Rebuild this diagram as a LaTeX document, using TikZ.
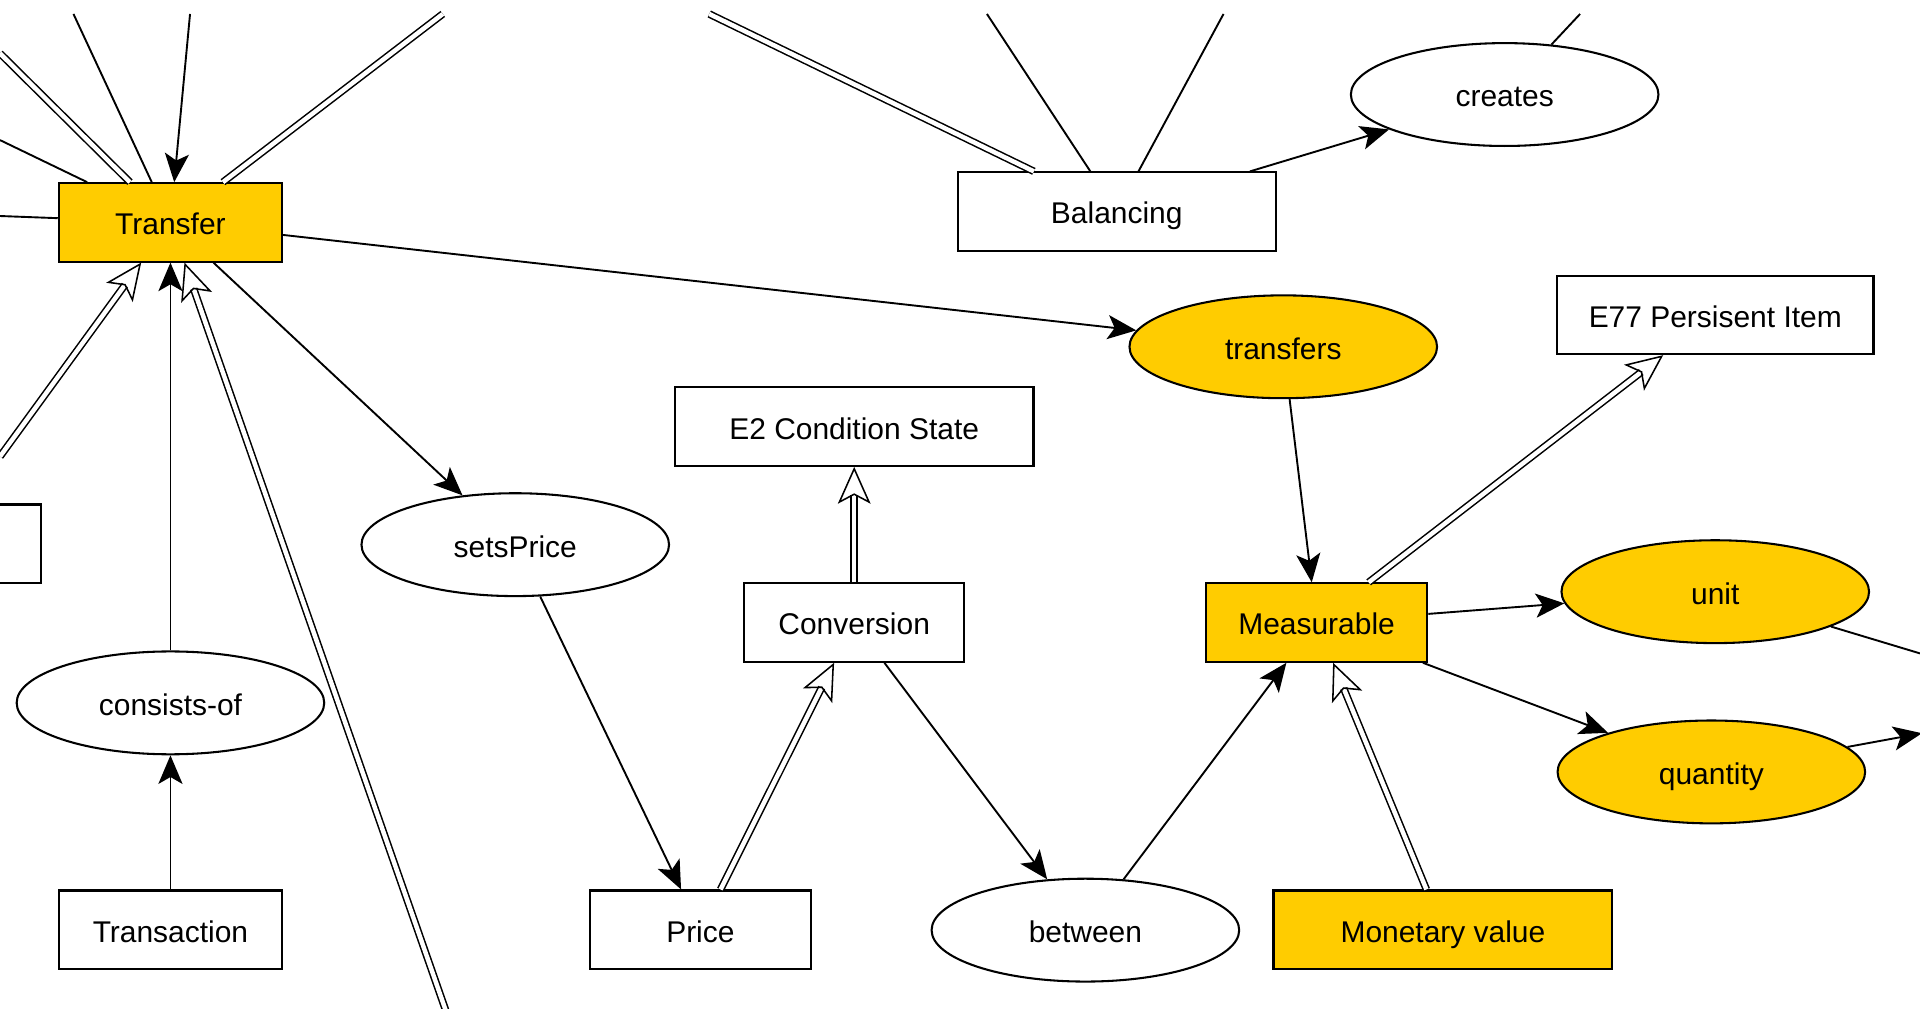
\documentclass[tikz,border=0pt]{standalone}
\usepackage{fontspec}
\setmainfont{Liberation Sans}
\usetikzlibrary{arrows.meta,shapes.geometric}
\definecolor{gold}{HTML}{FFCC00}
\tikzset{
  cls/.style={draw,line width=.6pt,fill=white,minimum height=.8cm,inner sep=0pt,text height=.9em,text depth=.18em},
  prop/.style={draw,ellipse,line width=.6pt,fill=white,minimum width=3.14cm,minimum height=1.05cm,inner sep=0pt,text height=.9em,text depth=.18em},
  hl/.style={fill=gold},
  plain/.style={line width=.55pt},
  rel/.style={plain,-{Stealth[length=8.3pt,width=7pt,inset=2pt]}},
  dbl/.style={line width=.45pt,double,double distance=1.3pt},
  isa/.style={dbl,-{Stealth[open,length=10.7pt,width=9.5pt,inset=2.5pt]}}
}
\begin{document}
\begin{tikzpicture}[font=\fontsize{8.7}{10}\selectfont]
        \useasboundingbox (0,0) rectangle (19.6,-10.3);
        \clip (0,0) rectangle (19.6,-10.3);
        \node[cls,hl,minimum width=2.28cm] (tr) at (1.74,-2.27) {Transfer};
        \node[cls,minimum width=3.25cm] (bal) at (11.40,-2.16) {Balancing};
        \node[prop] (cre) at (15.36,-.965) {creates};
        \node[prop,hl] (tfs) at (13.10,-3.54) {transfers};
        \node[cls,minimum width=3.23cm] (e77) at (17.51,-3.215) {E77 Persisent Item};
        \node[cls,minimum width=3.66cm] (e2) at (8.72,-4.355) {E2 Condition State};
        \node[prop] (sp) at (5.26,-5.56) {setsPrice};
        \node[cls,minimum width=2.25cm] (conv) at (8.72,-6.355) {Conversion};
        \node[cls,hl,minimum width=2.26cm] (meas) at (13.44,-6.355) {Measurable};
        \node[prop,hl] (unit) at (17.51,-6.04) {unit};
        \node[prop] (cof) at (1.74,-7.175) {consists-of};
        \node[prop,hl] (qty) at (17.47,-7.88) {quantity};
        \node[cls,minimum width=2.28cm] (tx) at (1.74,-9.49) {Transaction};
        \node[cls,minimum width=2.25cm] (price) at (7.15,-9.49) {Price};
        \node[prop] (btw) at (11.08,-9.495) {between};
        \node[cls,hl,minimum width=3.46cm] (mon) at (14.73,-9.49) {Monetary value};
        \node[cls,minimum width=2.28cm] (lbox) at (-.725,-5.55) {};
        % loose ends at the border of the view
        \coordinate (ta1) at (0,-.545);
        \coordinate (ta2) at (0,-1.43);
        \coordinate (ta3) at (.75,-.1425);
        \coordinate (ta4) at (1.94,-.1425);
        \coordinate (ta5) at (4.52,-.1425);
        \coordinate (ta6) at (0,-2.205);
        \coordinate (tb1) at (0,-4.66);
        \coordinate (tb2) at (4.58,-10.4);
        \coordinate (b1) at (7.24,-.1425);
        \coordinate (b2) at (10.075,-.1425);
        \coordinate (b3) at (12.49,-.1425);
        \coordinate (c1) at (16.13,-.1425);
        \coordinate (u1) at (19.6,-6.67);
        \coordinate (q1) at (19.62,-7.485);
        \draw[dbl] (ta1) -- (tr);
        \foreach \c in {ta2,ta3,ta6}{
            \draw[plain] (\c) -- (tr);
        }
        \draw[rel] (ta4) -- (tr);
        \draw[dbl] (ta5) -- (tr);
        \draw[isa] (tb1) -- (tr);
        \draw[isa] (tb2) -- (tr);
        \draw[rel] (cof) -- (tr);
        \draw[rel] (tx) -- (cof);
        \draw[rel] (tr) -- (sp);
        \draw[rel] (tr) -- (tfs);
        \draw[dbl] (b1) -- (bal);
        \foreach \c in {b2,b3}{
            \draw[plain] (\c) -- (bal);
        }
        \draw[rel] (bal) -- (cre);
        \draw[plain] (c1) -- (cre);
        \draw[rel] (tfs) -- (meas);
        \draw[isa] (meas) -- (e77);
        \draw[rel] (meas) -- (unit);
        \draw[rel] (meas) -- (qty);
        \draw[plain] (unit) -- (u1);
        \draw[rel] (qty) -- (q1);
        \draw[isa] (mon) -- (meas);
        \draw[rel] (btw) -- (meas);
        \draw[rel] (conv) -- (btw);
        \draw[isa] (price) -- (conv);
        \draw[isa] (conv) -- (e2);
        \draw[rel] (sp) -- (price);
\end{tikzpicture}
\end{document}
